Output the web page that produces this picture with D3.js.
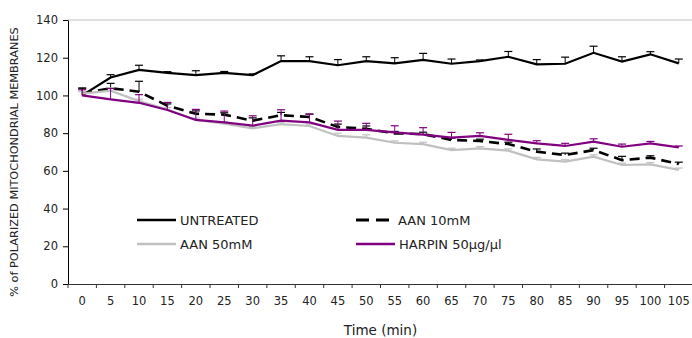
<!DOCTYPE html>
<html>
<head>
<meta charset="utf-8">
<script src="https://cdn.jsdelivr.net/npm/d3@7"></script>
<style>
  body { margin: 0; background: #fff; }
  svg { display: block; font-family: "DejaVu Sans", Verdana, sans-serif; }
</style>
</head>
<body>
<svg width="692" height="338"></svg>
<script>
(function() {

// time points (min)
var times = [0, 5, 10, 15, 20, 25, 30, 35, 40, 45, 50, 55, 60, 65, 70, 75, 80, 85, 90, 95, 100, 105];

var untreated    = [100, 109.5, 113.5, 112, 110.8, 112, 110.8, 118.2, 118.2, 116, 118.2, 117, 118.8, 116.8, 118.2, 120.5, 116.5, 116.8, 122.6, 118, 121.8, 117];
var untreatedErr = [3.5, 1.5, 2.5, 0.6, 2.3, 0.7, 0.6, 2.8, 2.3, 3, 2.3, 3, 3.5, 2.5, 0.6, 2.8, 2.5, 3.5, 3.5, 2.5, 1.4, 2.3];

var aan10    = [101, 103.8, 102, 94.5, 90.3, 89.8, 86.6, 89.5, 88.6, 83.3, 82.3, 79.9, 79.5, 76.4, 75.8, 74.2, 70.2, 68.4, 71, 65.7, 67, 63.6];
var aan10Err = [3, 2.6, 5.5, 1, 1.5, 1, 1.5, 1.5, 1.5, 1.5, 1.5, 1, 1, 1, 1, 1, 1.4, 1, 1, 2, 1, 1];

var aan50    = [101, 102.5, 97, 92.5, 87, 85, 82.5, 84.8, 83.8, 78.5, 77.6, 74.9, 74.2, 71, 71.9, 70.7, 66.1, 64.9, 67.5, 63.1, 63.4, 60.5];
var aan50Err = [1, 1.5, 1, 1, 1, 1, 1, 1, 1, 1.5, 1.5, 1, 1, 1, 1, 1, 1, 1, 1, 1, 1, 1];

var harpin    = [100, 97.9, 96.1, 92.3, 87, 85.7, 84, 86.6, 85.7, 81.7, 81.7, 80.4, 79.2, 77.6, 78.5, 76.4, 74.6, 73.2, 75.5, 72.8, 74.6, 72.5];
var harpinErr = [3, 5.8, 4.3, 4, 5.6, 6, 5.2, 5.8, 4.4, 4.7, 3.5, 3.5, 3.7, 2.8, 1.7, 3, 1.4, 1.4, 1.5, 1.4, 1, 0.7];

var seriesNames = ["UNTREATED", "AAN 10mM", "AAN 50mM", "HARPIN 50\u00b5g/\u00b5l"];

var series = [
    {name: seriesNames[0], values: untreated, err: untreatedErr, color: "#000000", dash: null},
    {name: seriesNames[1], values: aan10, err: aan10Err, color: "#000000", dash: "10,6"},
    {name: seriesNames[2], values: aan50, err: aan50Err, color: "#c0c0c0", dash: null},
    {name: seriesNames[3], values: harpin, err: harpinErr, color: "#800080", dash: null}
];

var svg = d3.select("svg");
var left = 68, right = 693, top = 20, bottom = 284;

var x = d3.scaleBand().domain(times).range([left, right]).padding(0);
var y = d3.scaleLinear().domain([0, 140]).range([bottom, top]);

function cx(t) { return x(t) + x.bandwidth() / 2; }

// top gridline at max
svg.append("line")
    .attr("x1", left).attr("x2", right)
    .attr("y1", y(140)).attr("y2", y(140))
    .attr("stroke", "#c0c0c0").attr("stroke-width", 1);

// y axis
var yAxis = svg.append("g")
    .attr("transform", "translate(" + left + ",0)")
    .call(d3.axisLeft(y).tickValues(d3.range(0, 141, 20)).tickSize(5).tickPadding(5).tickSizeOuter(0));
yAxis.select(".domain").attr("stroke", "#000");
yAxis.selectAll("text").attr("font-size", "11.5px").attr("fill", "#222").style("font-family", "DejaVu Sans, sans-serif");

// x axis (labels at band centers, ticks at band edges)
var xAxis = svg.append("g")
    .attr("transform", "translate(0," + bottom + ")")
    .call(d3.axisBottom(x).tickSize(0).tickPadding(13).tickSizeOuter(0));
xAxis.select(".domain").attr("stroke", "#333");
xAxis.selectAll("text").attr("font-size", "11.5px").attr("fill", "#222").style("font-family", "DejaVu Sans, sans-serif");

var edges = times.map(function(t) { return x(t); }).concat([right]);
svg.append("g").selectAll("line")
    .data(edges)
    .enter()
    .append("line")
    .attr("x1", function(d) { return d; }).attr("x2", function(d) { return d; })
    .attr("y1", bottom).attr("y2", bottom + 4)
    .attr("stroke", "#333");

// axis titles
svg.append("text")
    .attr("x", cx(50) + x.bandwidth() / 2).attr("y", 335)
    .attr("text-anchor", "middle")
    .attr("font-size", "13.5px").attr("fill", "#222")
    .text("Time (min)");

svg.append("text")
    .attr("transform", "translate(18,162) rotate(-90)")
    .attr("text-anchor", "middle")
    .attr("font-size", "11.3px").attr("fill", "#222")
    .text("% of POLARIZED MITOCHONDRIAL MEMBRANES");

// series lines + error bars
var line = d3.line()
    .x(function(d, i) { return cx(times[i]); })
    .y(function(d) { return y(d); });

series.forEach(function(s) {
    var g = svg.append("g");
    var eb = g.selectAll("g.eb")
        .data(s.values)
        .enter()
        .append("g");
    eb.append("line")
        .attr("x1", function(d, i) { return cx(times[i]); })
        .attr("x2", function(d, i) { return cx(times[i]); })
        .attr("y1", function(d) { return y(d); })
        .attr("y2", function(d, i) { return y(d + s.err[i]); })
        .attr("stroke", s.color).attr("stroke-width", 1);
    eb.append("line")
        .attr("x1", function(d, i) { return cx(times[i]) - 4; })
        .attr("x2", function(d, i) { return cx(times[i]) + 4; })
        .attr("y1", function(d, i) { return y(d + s.err[i]); })
        .attr("y2", function(d, i) { return y(d + s.err[i]); })
        .attr("stroke", s.color).attr("stroke-width", 1.2);

    g.append("path")
        .attr("d", line(s.values))
        .attr("fill", "none")
        .attr("stroke", s.color)
        .attr("stroke-width", s.dash ? 2.6 : 2.2)
        .attr("stroke-dasharray", s.dash);
});

// legend
var legendPos = [[137, 220], [356, 220], [137, 244], [356, 244]];
series.forEach(function(s, i) {
    var p = legendPos[i];
    svg.append("line")
        .attr("x1", p[0]).attr("x2", p[0] + (s.dash ? 35 : 39))
        .attr("y1", p[1]).attr("y2", p[1])
        .attr("stroke", s.color)
        .attr("stroke-width", s.dash ? 3 : 2.6)
        .attr("stroke-dasharray", s.dash ? "13,7" : null);
    svg.append("text")
        .attr("x", p[0] + (s.dash ? 42 : 43)).attr("y", p[1] + 5)
        .attr("font-size", "13px").attr("fill", "#222")
        .text(s.name);
});

})();
</script>
</body>
</html>
